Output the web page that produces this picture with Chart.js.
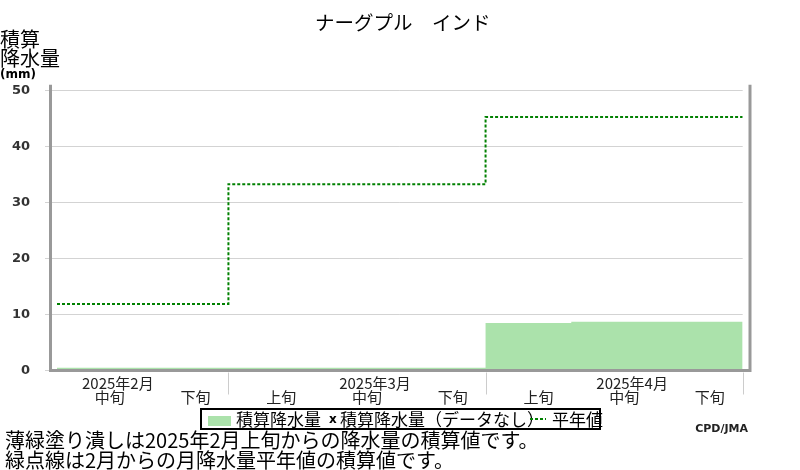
<!DOCTYPE html>
<html>
<head>
<meta charset="utf-8">
<script src="https://cdn.jsdelivr.net/npm/chart.js@4.4.1/dist/chart.umd.min.js"></script>
<style>
  body { margin: 0; background: #fff; }
  #wrap { position: relative; width: 800px; height: 470px; overflow: hidden; font-family: "Noto Sans CJK JP", sans-serif; color: #000; }
  #wrap canvas { position: absolute; left: 0; top: 0; }
  .t { position: absolute; white-space: nowrap; line-height: 1; }
</style>
</head>
<body>
<div id="wrap">
  <canvas id="chart" width="800" height="470"></canvas>
  <div class="t" style="left:315px;top:12px;font-size:19.5px;">ナーグプル　インド</div>
  <div class="t" style="left:0;top:29px;font-size:20px;">積算</div>
  <div class="t" style="left:0;top:48px;font-size:20px;">降水量</div>
  <div class="t" style="left:0;top:67px;font:bold 12px 'DejaVu Sans';">(mm)</div>

  <div style="position:absolute;left:200px;top:408px;width:397px;height:18px;border:2px solid #000;"></div>
  <div style="position:absolute;left:208px;top:416px;width:23px;height:10px;background:rgb(171,226,171);"></div>
  <div class="t" style="left:236px;top:410px;font-size:17px;">積算降水量</div>
  <div class="t" style="left:329px;top:412px;font:bold 12px 'DejaVu Sans';">x</div>
  <div class="t" style="left:340px;top:410px;font-size:17px;">積算降水量（データなし）</div>
  <div style="position:absolute;left:530px;top:418px;width:16px;height:2px;background:repeating-linear-gradient(90deg,#008000 0 3px,transparent 3px 5px);"></div>
  <div class="t" style="left:552px;top:410px;font-size:17px;">平年値</div>

  <div class="t" style="right:52px;top:422px;font:bold 11px 'DejaVu Sans';color:#222;">CPD/JMA</div>
  <div class="t" style="left:5px;top:430px;font-size:20px;">薄緑塗り潰しは2025年2月上旬からの降水量の積算値です。</div>
  <div class="t" style="left:5px;top:450px;font-size:20px;">緑点線は2月からの月降水量平年値の積算値です。</div>
</div>
<script>
// one entry per dekad shown on the x axis
const months = ['2025年2月', '2025年2月', '2025年3月', '2025年3月', '2025年3月', '2025年4月', '2025年4月', '2025年4月'];
const dekads = ['中旬', '下旬', '上旬', '中旬', '下旬', '上旬', '中旬', '下旬'];
const cumPrecip = [0.5, 0.5, 0.5, 0.5, 0.5, 8.5, 8.7, 8.7];
const normalCum = [11.9, 11.9, 33.3, 33.3, 33.3, 45.3, 45.3, 45.3];
const yTicks = [0, 10, 20, 30, 40, 50];

// each dekad becomes a flat step across its own slot
function steps(vals) {
  const pts = [];
  vals.forEach((v, i) => {
    pts.push({ x: i - 0.5, y: v }, { x: i + 0.5, y: v });
  });
  return pts;
}

const axisDecor = {
  id: 'axisDecor',
  afterDatasetsDraw(chart) {
    const { ctx, chartArea: a, scales: { x } } = chart;
    ctx.save();
    // grey frame, a bit outside the plot
    ctx.strokeStyle = '#999';
    ctx.lineWidth = 3;
    ctx.beginPath();
    ctx.moveTo(a.left - 6.5, a.top - 6);
    ctx.lineTo(a.left - 6.5, a.bottom);
    ctx.lineTo(a.right + 7.3, a.bottom);
    ctx.lineTo(a.right + 7.3, a.top - 6);
    ctx.stroke();

    // month separators under the axis
    ctx.strokeStyle = '#ccc';
    ctx.lineWidth = 1;
    const n = dekads.length;
    for (let i = 1; i <= n; i++) {
      if (i < n && months[i] === months[i - 1]) continue;
      const px = Math.round(x.getPixelForValue(i - 0.5)) + 0.5;
      ctx.beginPath();
      ctx.moveTo(px, a.bottom + 2);
      ctx.lineTo(px, a.bottom + 24);
      ctx.stroke();
    }

    // labels
    ctx.fillStyle = '#222';
    ctx.font = '15px "Noto Sans CJK JP"';
    ctx.textAlign = 'center';
    ctx.textBaseline = 'middle';
    for (let i = 0; i < n; i++) {
      const px = x.getPixelForValue(i);
      ctx.fillText(dekads[i], px + 10, a.bottom + 26.5);
      if (dekads[i] === '中旬') ctx.fillText(months[i], px + 18, a.bottom + 12.5);
    }
    ctx.restore();
  }
};

new Chart(document.getElementById('chart'), {
  type: 'line',
  data: {
    datasets: [
      {
        label: '平年値',
        data: steps(normalCum),
        borderColor: '#008000',
        borderWidth: 2,
        borderDash: [3, 2],
        pointRadius: 0,
        fill: false,
        order: 0
      },
      {
        label: '積算降水量',
        data: steps(cumPrecip),
        borderWidth: 0,
        borderColor: 'rgba(0,0,0,0)',
        backgroundColor: 'rgb(171,226,171)',
        pointRadius: 0,
        fill: 'origin',
        order: 1
      }
    ]
  },
  options: {
    responsive: false,
    animation: false,
    layout: { padding: { top: 90.7, right: 57.3, bottom: 99.5, left: 0 } },
    plugins: { legend: { display: false }, tooltip: { enabled: false } },
    scales: {
      x: {
        type: 'linear',
        min: -0.5,
        max: dekads.length - 0.5,
        display: false
      },
      y: {
        min: 0,
        max: 50,
        afterBuildTicks: (s) => { s.ticks = yTicks.map((v) => ({ value: v })); },
        afterFit: (s) => { s.width = 57; },
        ticks: {
          padding: 15,
          color: '#333',
          font: { family: 'DejaVu Sans', weight: 'bold', size: 13 }
        },
        grid: { color: '#d3d3d3', lineWidth: 1, tickLength: 12 },
        border: { display: false }
      }
    }
  },
  plugins: [axisDecor]
});
</script>
</body>
</html>
